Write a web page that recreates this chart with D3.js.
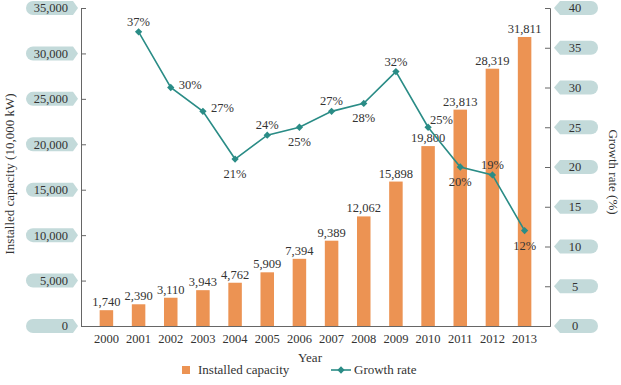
<!DOCTYPE html>
<html>
<head>
<meta charset="utf-8">
<script src="https://cdn.jsdelivr.net/npm/d3@7"></script>
<style>
  body { margin: 0; background: #fff; }
  text { font-family: "Liberation Serif", "Times New Roman", serif; fill: #333; }
</style>
</head>
<body>
<div id="chart"></div>
<script>
const years = ['2000', '2001', '2002', '2003', '2004', '2005', '2006', '2007', '2008', '2009', '2010', '2011', '2012', '2013']
const capacity = [1740, 2390, 3110, 3943, 4762, 5909, 7394, 9389, 12062, 15898, 19800, 23813, 28319, 31811]
const growth = [null, 37, 30, 27, 21, 24, 25, 27, 28, 32, 25, 20, 19, 12]
// where each growth label sits relative to its point
const growthLabelPos = [null, 'above', 'right', 'right', 'below', 'above', 'below', 'above', 'below', 'above', 'upright', 'below', 'above', 'below']
const leftTicks = [0, 5000, 10000, 15000, 20000, 25000, 30000, 35000]
const rightTicks = [0, 5, 10, 15, 20, 25, 30, 35, 40]

const width = 621
const height = 385
const margin = { top: 8, right: 71, bottom: 59, left: 81 }

const barColor = '#ec9353'
const lineColor = '#2a8c86'
const pillColor = '#c3dada'

const svg = d3.select('#chart')
  .append('svg')
  .attr('width', width)
  .attr('height', height)

const x = d3.scaleBand()
  .domain(years)
  .range([margin.left, width - margin.right])
  .padding(0.58)

const yLeft = d3.scaleLinear()
  .domain([0, 35000])
  .range([height - margin.bottom, margin.top])

const yRight = d3.scaleLinear()
  .domain([0, 40])
  .range([height - margin.bottom, margin.top])

const fmt = d3.format(',')

// left axis
const gl = svg.append('g')
  .attr('transform', `translate(${margin.left},0)`)
  .call(d3.axisLeft(yLeft).tickValues(leftTicks).tickSize(-5).tickFormat(''))
gl.select('.domain').attr('stroke', '#666')
gl.selectAll('.tick line').attr('stroke', '#666')

const lp = svg.append('g').selectAll('g')
  .data(leftTicks)
  .join('g')
  .attr('transform', d => `translate(0,${yLeft(d)})`)
lp.append('path')
  .attr('d', 'M33,-7 L73,-7 L78,0 L73,7 L33,7 A7,7 0 0 1 33,-7 Z')
  .attr('fill', pillColor)
lp.append('text')
  .attr('x', 68)
  .attr('dy', '0.35em')
  .attr('text-anchor', 'end')
  .style('font-size', '12.5px')
  .text(d => fmt(d))

// right axis
const gr = svg.append('g')
  .attr('transform', `translate(${width - margin.right},0)`)
  .call(d3.axisRight(yRight).tickValues(rightTicks).tickSize(-5).tickFormat(''))
gr.select('.domain').attr('stroke', '#666')
gr.selectAll('.tick line').attr('stroke', '#666')

const rx0 = width - margin.right
const rp = svg.append('g').selectAll('g')
  .data(rightTicks)
  .join('g')
  .attr('transform', d => `translate(${rx0},${yRight(d)})`)
rp.append('path')
  .attr('d', 'M4,0 L10,-7 L41,-7 A7,7 0 0 1 41,7 L10,7 Z')
  .attr('fill', pillColor)
rp.append('text')
  .attr('x', 25)
  .attr('dy', '0.35em')
  .attr('text-anchor', 'middle')
  .style('font-size', '12.5px')
  .text(d => d)

// bottom axis
const gb = svg.append('g')
  .attr('transform', `translate(0,${height - margin.bottom})`)
  .call(d3.axisBottom(x).tickSize(0).tickPadding(8))
gb.select('.domain').attr('stroke', '#666')
gb.selectAll('text')
  .style('font-family', '"Liberation Serif", serif')
  .style('font-size', '12.5px')
  .attr('fill', '#333')

// bars
svg.append('g').selectAll('rect')
  .data(capacity)
  .join('rect')
  .attr('x', (d, i) => x(years[i]))
  .attr('y', d => yLeft(d))
  .attr('width', x.bandwidth())
  .attr('height', d => yLeft(0) - yLeft(d))
  .attr('fill', barColor)

svg.append('g').selectAll('text')
  .data(capacity)
  .join('text')
  .attr('x', (d, i) => x(years[i]) + x.bandwidth() / 2)
  .attr('y', d => yLeft(d) - 4)
  .attr('text-anchor', 'middle')
  .style('font-size', '12.5px')
  .text(d => fmt(d))

// growth line
const pts = growth.map((g, i) => ({ year: years[i], g, pos: growthLabelPos[i] })).filter(d => d.g !== null)
const cx = d => x(d.year) + x.bandwidth() / 2

svg.append('path')
  .datum(pts)
  .attr('fill', 'none')
  .attr('stroke', lineColor)
  .attr('stroke-width', 1.6)
  .attr('d', d3.line().x(cx).y(d => yRight(d.g)))

svg.append('g').selectAll('path')
  .data(pts)
  .join('path')
  .attr('transform', d => `translate(${cx(d)},${yRight(d.g)})`)
  .attr('d', d3.symbol(d3.symbolDiamond2, 34))
  .attr('fill', lineColor)

svg.append('g').selectAll('text')
  .data(pts)
  .join('text')
  .attr('x', d => {
    if (d.pos === 'right') return cx(d) + 8
    if (d.pos === 'upright') return cx(d) + 2
    return cx(d)
  })
  .attr('y', d => {
    const py = yRight(d.g)
    if (d.pos === 'above') return py - 6
    if (d.pos === 'below') return py + 19
    if (d.pos === 'upright') return py - 3
    return py + 1
  })
  .attr('text-anchor', d => d.pos === 'right' || d.pos === 'upright' ? 'start' : 'middle')
  .style('font-size', '12.5px')
  .text(d => d.g + '%')

// axis titles
svg.append('text')
  .attr('transform', 'translate(14,174) rotate(-90)')
  .attr('text-anchor', 'middle')
  .style('font-size', '13px')
  .text('Installed capacity (10,000 kW)')

svg.append('text')
  .attr('transform', 'translate(609,172) rotate(90)')
  .attr('text-anchor', 'middle')
  .style('font-size', '13px')
  .text('Growth rate (%)')

svg.append('text')
  .attr('x', 310)
  .attr('y', 362)
  .attr('text-anchor', 'middle')
  .style('font-size', '13px')
  .text('Year')

// legend
const legend = svg.append('g')
legend.append('rect')
  .attr('x', 182).attr('y', 366).attr('width', 8).attr('height', 8)
  .attr('fill', barColor)
legend.append('text')
  .attr('x', 198).attr('y', 374)
  .style('font-size', '13px')
  .text('Installed capacity')
legend.append('line')
  .attr('x1', 331).attr('x2', 351).attr('y1', 370).attr('y2', 370)
  .attr('stroke', lineColor).attr('stroke-width', 1.6)
legend.append('path')
  .attr('transform', 'translate(341,370)')
  .attr('d', d3.symbol(d3.symbolDiamond2, 34))
  .attr('fill', lineColor)
legend.append('text')
  .attr('x', 354).attr('y', 374)
  .style('font-size', '13px')
  .text('Growth rate')
</script>
</body>
</html>
